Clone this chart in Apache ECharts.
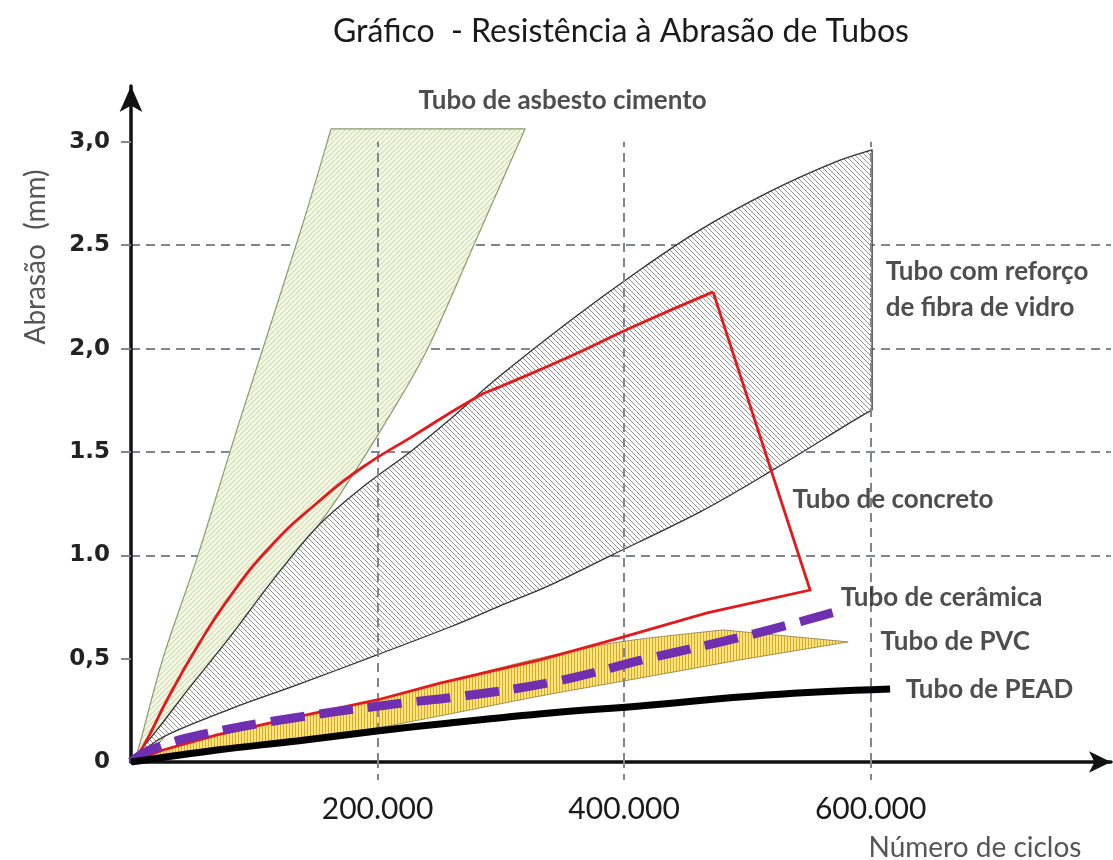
<!DOCTYPE html>
<html><head><meta charset="utf-8">
<script src="https://cdn.jsdelivr.net/npm/echarts@6/dist/echarts.min.js"></script>
<style>html,body{margin:0;padding:0;background:#fff}#c{width:1113px;height:860px}</style>
</head><body><div id="c"></div>
<script>
// ---- tick labels ----
const yTickValues = [0, 0.5, 1, 1.5, 2, 2.5, 3];
const yTickLabels = ['0', '0,5', '1.0', '1.5', '2,0', '2.5', '3,0'];
const xTickValues = [200000, 400000, 600000];
const xTickLabels = ['200.000', '400.000', '600.000'];

// ---- series data: [ciclos, abrasão mm] ----
const asbestoLeft = [[0,0],[5700,0.058],[26000,0.503],[54400,1.002],[88400,1.655],[137100,2.560],[162300,3.063]];
const asbestoRight = [[319700,3.063],[277500,2.492],[240200,1.994],[207700,1.655],[172000,1.316],[139600,1.040],[107100,0.750],[80300,0.494],[45400,0.252],[15400,0.044],[0,0]];

const fibraUpper = [[0,0],[21100,0.155],[47900,0.363],[80300,0.605],[115200,0.881],[150900,1.137],[188200,1.331],[226400,1.500],[262900,1.679],[299400,1.868],[353800,2.124],[413000,2.381],[461700,2.574],[516100,2.753],[569600,2.898],[601200,2.961]];
const fibraLower = [[601200,1.703],[585800,1.650],[520900,1.413],[461700,1.210],[388700,0.997],[340000,0.856],[299400,0.755],[258800,0.653],[199600,0.518],[134700,0.373],[80300,0.256],[26000,0.121],[0,0]];

const concretoCurve = [[0,0],[9700,0.073],[29200,0.300],[53600,0.556],[80300,0.800],[112800,1.040],[150900,1.253],[188200,1.427],[226400,1.568],[280700,1.766],[299400,1.815],[353800,1.955],[407300,2.105],[472200,2.274]];
const concretoReturn = [[472200,2.274],[550900,0.832],[467400,0.721],[396800,0.600],[331900,0.494],[250700,0.382],[199600,0.300],[134700,0.218],[69800,0.131],[26000,0.058],[0,0]];

const pvcTop = [[0,0],[26000,0.058],[69800,0.131],[134700,0.218],[199600,0.300],[254800,0.387],[331900,0.503],[396800,0.581],[480300,0.639]];
const pvcTip = [581800,0.581];
const pvcBottom = [[494100,0.494],[413000,0.406],[331900,0.319],[254800,0.228],[199600,0.165],[134700,0.106],[69800,0.053],[26000,0.019],[0,0]];

const ceramica = [[0,0],[15400,0.058],[56000,0.131],[137100,0.218],[219900,0.285],[264500,0.315],[342400,0.387],[421100,0.503],[502300,0.615],[571200,0.726]];

const pead = [[0,0],[69800,0.058],[134700,0.102],[199600,0.150],[258800,0.189],[340000,0.237],[413000,0.271],[516100,0.324],[615800,0.353]];

// ---- annotation anchors (data units) ----
const annotations = [
  ['Tubo de asbesto cimento', 232900, 3.198],
  ['Tubo com reforço\nde fibra de vidro', 611800, 2.284],
  ['Tubo de concreto', 536300, 1.268],
  ['Tubo de cerâmica', 575300, 0.794],
  ['Tubo de PVC', 607700, 0.581],
  ['Tubo de PEAD', 628000, 0.348]
];

function hatch(size, bg, fg, lw, dir) {
  const c = document.createElement('canvas');
  c.width = size; c.height = size;
  const g = c.getContext('2d');
  g.fillStyle = bg; g.fillRect(0, 0, size, size);
  g.strokeStyle = fg; g.lineWidth = lw;
  g.beginPath();
  if (dir === '/') {
    for (let k = -1; k <= 1; k++) { g.moveTo(k*size, size); g.lineTo(k*size + size, 0); }
  } else if (dir === '\\') {
    for (let k = -1; k <= 1; k++) { g.moveTo(k*size, 0); g.lineTo(k*size + size, size); }
  } else {
    g.moveTo(size/2, 0); g.lineTo(size/2, size);
  }
  g.stroke();
  return { image: c, repeat: 'repeat' };
}

const patAsb = hatch(5, '#f6f9ea', '#d0dcab', 1.2, '/');
const patFib = hatch(5, '#ffffff', '#929292', 1, '\\');
const patPvc = hatch(3, '#fde47c', '#dcaa2c', 1, '|');

// Catmull-Rom smoothing of an edge (pixel points) -> path commands (no initial move)
function smoothEdge(p) {
  let d = '';
  for (let i = 0; i < p.length - 1; i++) {
    const p0 = p[i - 1] || p[i], p1 = p[i], p2 = p[i + 1], p3 = p[i + 2] || p[i + 1];
    const c1 = [p1[0] + (p2[0] - p0[0]) / 6, p1[1] + (p2[1] - p0[1]) / 6];
    const c2 = [p2[0] - (p3[0] - p1[0]) / 6, p2[1] - (p3[1] - p1[1]) / 6];
    d += ' C' + c1[0] + ' ' + c1[1] + ' ' + c2[0] + ' ' + c2[1] + ' ' + p2[0] + ' ' + p2[1];
  }
  return d;
}

// edges: list of arrays of data points; each edge is smoothed, edges joined by straight lines
function shape(edges, fill, stroke, lw, z) {
  return {
    type: 'custom', coordinateSystem: 'cartesian2d', z: z, silent: true, clip: false,
    data: [[0, 0]],
    renderItem: function (params, api) {
      let d = '';
      edges.forEach((e, k) => {
        const px = e.map(p => api.coord(p));
        d += (k === 0 ? 'M' : ' L') + px[0][0] + ' ' + px[0][1];
        d += smoothEdge(px);
      });
      d += ' Z';
      return {
        type: 'path',
        shape: { pathData: d },
        style: { fill: fill, stroke: stroke, lineWidth: lw, lineJoin: 'round' }
      };
    }
  };
}

const chart = echarts.init(document.getElementById('c'), null, { renderer: 'canvas' });
const gridColor = '#80858f';

chart.setOption({
  animation: false,
  backgroundColor: '#ffffff',
  title: {
    text: 'Gráfico  - Resistência à Abrasão de Tubos',
    left: 328, top: 11,
    textStyle: { fontFamily: 'Lato', fontSize: 32, fontWeight: 'normal', color: '#1a1a1a' }
  },
  grid: { left: 131, right: 2, top: 86, bottom: 98, containLabel: false },
  xAxis: {
    type: 'value', min: 0, max: 795000, interval: 200000,
    axisLine: { show: true, symbol: ['none', 'arrow'], symbolSize: [16, 22], lineStyle: { color: '#111', width: 3.5 } },
    axisTick: { show: true, customValues: xTickValues, length: 22, lineStyle: { color: gridColor, width: 2, type: [6, 6] } },
    axisLabel: {
      customValues: xTickValues, margin: 32,
      formatter: v => { const i = xTickValues.indexOf(v); return i >= 0 ? xTickLabels[i] : ''; },
      fontFamily: 'Lato', fontSize: 30, color: '#1a1a1a'
    },
    splitLine: { show: false }
  },
  yAxis: {
    type: 'value', min: 0, max: 3.27, interval: 0.5,
    axisLine: { show: true, symbol: ['none', 'arrow'], symbolSize: [17, 26], lineStyle: { color: '#111', width: 3.5 } },
    axisTick: { show: true, customValues: yTickValues.slice(1), length: 10, lineStyle: { color: gridColor, width: 2 } },
    axisLabel: {
      customValues: yTickValues, margin: 21,
      formatter: v => { const i = yTickValues.findIndex(t => Math.abs(t - v) < 1e-9); return i >= 0 ? yTickLabels[i] : ''; },
      fontFamily: 'DejaVu Sans', fontWeight: 'bold', fontSize: 23, color: '#222'
    },
    splitLine: { show: true, showMinLine: false, showMaxLine: false, lineStyle: { color: gridColor, width: 2, type: [9, 6] } }
  },
  graphic: [
    { type: 'text', x: 36, y: 257, rotation: Math.PI / 2, style: { text: 'Abrasão  (mm)', fill: '#555', font: '28px Lato', align: 'center', verticalAlign: 'middle' } },
    { type: 'text', x: 975, y: 848, style: { text: 'Número de ciclos', fill: '#555', font: '28px Lato', align: 'center', verticalAlign: 'middle' } }
  ],
  series: [
    {
      type: 'line', data: [], z: 1, silent: true,
      markLine: {
        silent: true, symbol: 'none', label: { show: false },
        lineStyle: { color: gridColor, width: 2, type: [9, 6] },
        data: xTickValues.map(v => [{ coord: [v, 0] }, { coord: [v, 3.0] }])
      }
    },
    shape([asbestoLeft, asbestoRight], patAsb, '#8c9c6c', 1.2, 2),
    shape([fibraUpper, fibraLower], patFib, '#333', 1.3, 3),
    shape([pvcTop, [pvcTip], pvcBottom], patPvc, '#8a7a40', 0.8, 4),
    { type: 'line', data: concretoCurve, smooth: 0.5, showSymbol: false, z: 5, silent: true, lineStyle: { color: '#e31a1c', width: 2.8 } },
    { type: 'line', data: concretoReturn, smooth: false, showSymbol: false, z: 5, silent: true, lineStyle: { color: '#e31a1c', width: 2.8, join: 'miter' } },
    { type: 'line', data: ceramica, smooth: 0.4, showSymbol: false, z: 6, silent: true, lineStyle: { color: '#6f2fb0', width: 9, type: [34, 15], cap: 'butt' } },
    { type: 'line', data: pead, smooth: 0.4, showSymbol: false, z: 7, silent: true, lineStyle: { color: '#000', width: 7 } },
    {
      type: 'scatter', z: 8, silent: true, symbolSize: 1, itemStyle: { color: 'rgba(0,0,0,0)' },
      data: annotations.map(a => ({ name: a[0], value: [a[1], a[2]] })),
      label: { show: true, position: 'right', distance: 0, formatter: '{b}', fontFamily: 'Lato', fontWeight: 'bold', fontSize: 26, lineHeight: 36, color: '#222', align: 'left' }
    }
  ]
});
</script></body></html>
